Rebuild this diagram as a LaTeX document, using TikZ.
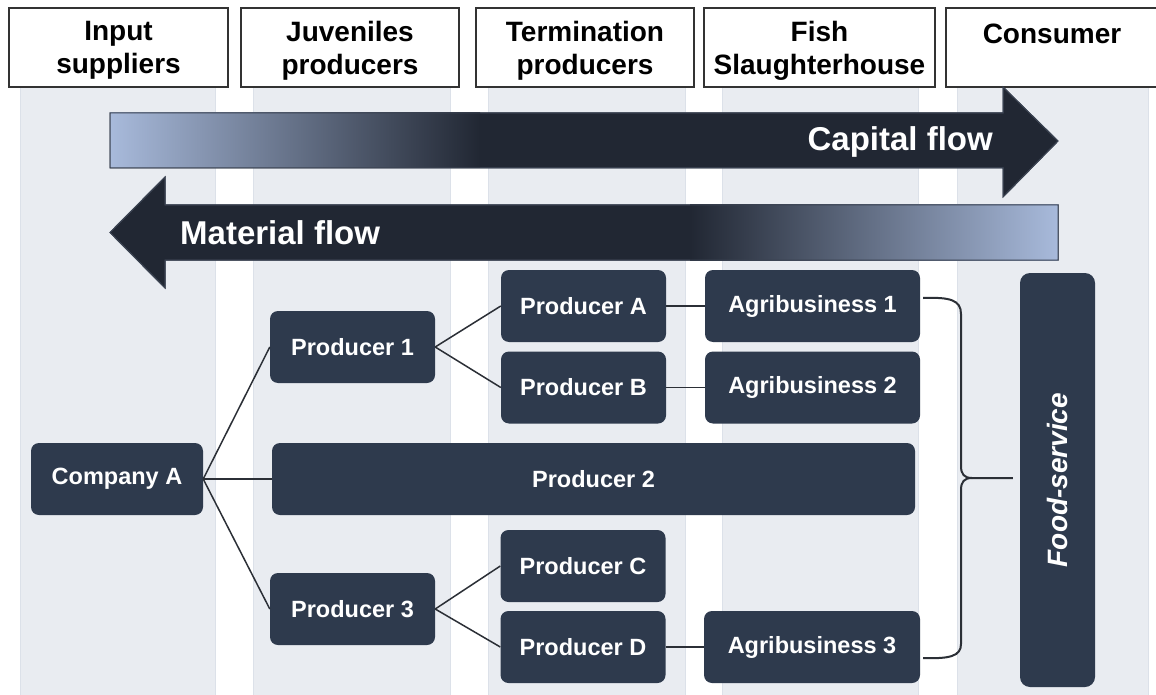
\documentclass[tikz,border=0pt]{standalone}
\usepackage{fontspec}
\setmainfont{Liberation Sans}
\definecolor{band}{HTML}{E9ECF1}
\definecolor{bandedge}{HTML}{DCE1E9}
\definecolor{nodefill}{HTML}{2E3A4D}
\definecolor{arrowdark}{HTML}{212733}
\definecolor{lightb}{HTML}{A8BADB}
\definecolor{linec}{HTML}{2B2F36}
\definecolor{headline}{HTML}{333333}
\definecolor{arrowline}{HTML}{3B4352}
\begin{document}
\begin{tikzpicture}[x=1pt,y=-1pt,
  bandrect/.style={fill=band,draw=bandedge,line width=0.8pt},
  headbox/.style={draw=headline,line width=1.5pt,fill=white,minimum height=79pt,inner sep=0pt},
  headtext/.style={align=center,inner sep=0pt,font=\fontsize{28}{33}\selectfont\bfseries},
  nbox/.style={fill=nodefill,rounded corners=8pt,text=white,inner sep=0pt,minimum height=72pt,minimum width=165pt,font=\fontsize{23.5}{28}\selectfont\bfseries},
  conn/.style={draw=linec,line width=1.5pt},
  flowarrow/.style={fill=arrowdark,draw=arrowline,line width=1pt},
  flowtext/.style={text=white,inner sep=0pt,font=\fontsize{33}{38}\selectfont\bfseries},
  bracel/.style={draw=linec,line width=2pt}
]
\clip (0,0) rectangle (1156,695);
\fill[white] (0,0) rectangle (1156,695);

% column bands
\foreach \a/\b in {20/215,253/450,488/685,722/918,957/1148}{
  \draw[bandrect] (\a,60) rectangle (\b,700);
}

% header boxes
\node[headbox,minimum width=219pt] (h1) at (118.5,47.5) {};
\node[headbox,minimum width=218pt] (h2) at (350,47.5) {};
\node[headbox,minimum width=218pt] (h3) at (585,47.5) {};
\node[headbox,minimum width=231pt] (h4) at (819.5,47.5) {};
\node[headbox,minimum width=216pt] (h5) at (1054,47.5) {};
\node[headtext] (t1) at ([yshift=-3pt]h1.center) {Input\\suppliers};
\node[headtext] (t2) at ([yshift=-3pt]h2.center) {Juveniles\\producers};
\node[headtext] (t3) at ([yshift=-3pt]h3.center) {Termination\\producers};
\node[headtext] (t4) at ([yshift=-3pt]h4.center) {Fish\\Slaughterhouse};
\node[headtext] (t5) at ([shift={(-2pt,-3pt)}]h5.center) {Consumer\\\mbox{}};

% capital flow arrow
\path[flowarrow] (110,113) -- (1003,113) -- (1003,87) -- (1058,141) -- (1003,197) -- (1003,168) -- (110,168) -- cycle;
\shade[left color=lightb,right color=arrowdark] (110,113) rectangle (480,168);
\draw[arrowline,line width=1pt] (110,113) -- (1003,113) -- (1003,87) -- (1058,141) -- (1003,197) -- (1003,168) -- (110,168) -- cycle;
\node[flowtext,anchor=east] (cap) at (993,142) {Capital flow};

% material flow arrow
\path[flowarrow] (1058,205) -- (165,205) -- (165,177) -- (110,232.5) -- (165,288) -- (165,260) -- (1058,260) -- cycle;
\shade[left color=arrowdark,right color=lightb] (690,205) rectangle (1058,260);
\draw[arrowline,line width=1pt] (1058,205) -- (165,205) -- (165,177) -- (110,232.5) -- (165,288) -- (165,260) -- (1058,260) -- cycle;
\node[flowtext,anchor=west] (mat) at (180,233) {Material flow};

% nodes
\node[nbox,minimum width=172pt] (compA) at (117,479) {Company A};
\node[nbox] (p1) at (352.5,347) {Producer 1};
\node[nbox,minimum width=643pt] (p2) at (593.5,479) {Producer 2};
\node[nbox] (p3) at (352.5,609) {Producer 3};
\node[nbox] (pA) at (583.5,306) {Producer A};
\node[nbox] (pB) at (583.5,387.5) {Producer B};
\node[nbox] (pC) at (583,566) {Producer C};
\node[nbox] (pD) at (583,647) {Producer D};
\node[nbox,minimum width=215pt] (a1) at (812.5,306) {Agribusiness 1};
\node[nbox,minimum width=215pt] (a2) at (812.5,387.5) {Agribusiness 2};
\node[nbox,minimum width=216pt] (a3) at (812,647) {Agribusiness 3};
\node[nbox,minimum width=75pt,minimum height=414pt,rounded corners=10pt] (fs) at (1057.5,480) {};
\node[text=white,inner sep=0pt,rotate=90,font=\fontsize{28}{32}\selectfont\bfseries\itshape] (fst) at (fs.center) {Food-service};

% connectors
\draw[conn] (compA.east) -- (p1.west);
\draw[conn] (compA.east) -- (p2.west);
\draw[conn] (compA.east) -- (p3.west);
\draw[conn] (p1.east) -- (pA.west);
\draw[conn] (p1.east) -- (pB.west);
\draw[conn] (p3.east) -- (pC.west);
\draw[conn] (p3.east) -- (pD.west);
\draw[conn] (pA.east) -- (a1.west);
\draw[conn] (pB.east) -- (a2.west);
\draw[conn] (pD.east) -- (a3.west);

% brace
\coordinate (bt) at ([shift={(3,-8)}]a1.east);
\coordinate (bb) at ([shift={(3,11)}]a3.east);
\coordinate (tip) at ([shift={(-7,-2)}]fs.west);
\draw[bracel] (bt) .. controls (950,297) and (961,300) .. (961,314) -- (961,466) .. controls (961,474) and (964,478) .. (972,478) -- (tip);
\draw[bracel] (bb) .. controls (950,659) and (961,656) .. (961,644) -- (961,490) .. controls (961,482) and (964,478) .. (972,478);
\end{tikzpicture}
\end{document}
